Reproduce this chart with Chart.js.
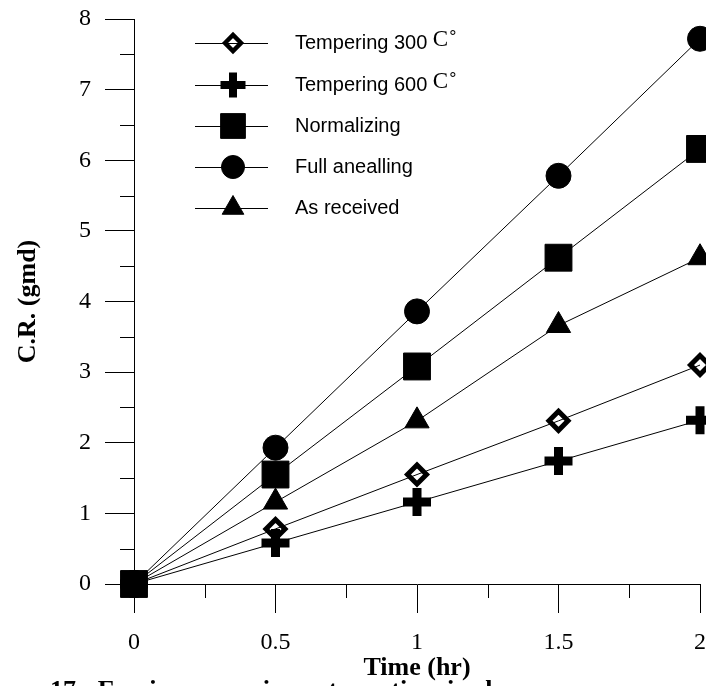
<!DOCTYPE html>
<html>
<head>
<meta charset="utf-8">
<script src="https://cdn.jsdelivr.net/npm/chart.js@4/dist/chart.umd.min.js"></script>
<style>
  html, body { margin: 0; padding: 0; background: #fff; }
  #wrap { width: 706px; height: 686px; }
</style>
</head>
<body>
<div id="wrap"><canvas id="chart" width="706" height="686"></canvas></div>
<script>
// Time (hr)
const times = [0, 0.5, 1, 1.5, 2];

// C.R. (gmd)
const tempering300 = [0, 0.78, 1.55, 2.31, 3.10];
const tempering600 = [0, 0.58, 1.16, 1.74, 2.32];
const normalizing  = [0, 1.55, 3.08, 4.62, 6.16];
const fullAnnealing = [0, 1.93, 3.86, 5.78, 7.72];
const asReceived   = [0, 1.16, 2.31, 3.66, 4.62];

const seriesNames = ['Tempering 300', 'Tempering 600', 'Normalizing', 'Full anealling', 'As received'];
const seriesUnits = ['C°', 'C°', '', '', ''];

const xTicks = [0, 0.5, 1, 1.5, 2];
const yTicks = [0, 1, 2, 3, 4, 5, 6, 7, 8];

const serif = '"Liberation Serif", "Times New Roman", serif';
const sans  = '"Liberation Sans", Arial, sans-serif';

// marqueurs (chart / légende)
const markers = [
  { pointStyle: 'rectRot',  radius: 9.5,  borderWidth: 5, fill: 'rgba(0,0,0,0)', lr: 8,    lb: 4.5 },
  { pointStyle: 'cross',    radius: 14,   borderWidth: 9, fill: '#000',          lr: 12.5, lb: 8 },
  { pointStyle: 'rect',     radius: 19,   borderWidth: 1, fill: '#000',          lr: 17.5, lb: 1 },
  { pointStyle: 'circle',   radius: 12.5, borderWidth: 1, fill: '#000',          lr: 11.5, lb: 1 },
  { pointStyle: 'triangle', radius: 14,   borderWidth: 1, fill: '#000',          lr: 12.5, lb: 1 }
];

const allValues = [tempering300, tempering600, normalizing, fullAnnealing, asReceived];

const datasets = allValues.map((vals, i) => ({
  label: seriesNames[i],
  data: times.map((t, j) => ({ x: t, y: vals[j] })),
  borderColor: '#000',
  borderWidth: 1,
  pointStyle: markers[i].pointStyle,
  pointRadius: markers[i].radius,
  pointBorderWidth: markers[i].borderWidth,
  pointBackgroundColor: markers[i].fill,
  pointBorderColor: '#000',
  fill: false,
  tension: 0,
  clip: false
}));

// ticks mineurs + légende + légende de figure
const extras = {
  id: 'extras',
  afterDraw(chart) {
    const ctx = chart.ctx;
    const xs = chart.scales.x, ys = chart.scales.y;
    const area = chart.chartArea;
    ctx.save();
    ctx.strokeStyle = '#000';
    ctx.lineWidth = 1;
    ctx.beginPath();
    for (let v = 0.25; v < 2; v += 0.5) {
      const px = Math.round(xs.getPixelForValue(v)) + 0.5;
      ctx.moveTo(px, area.bottom);
      ctx.lineTo(px, area.bottom + 14);
    }
    for (let v = 0.5; v < 8; v += 1) {
      const py = Math.round(ys.getPixelForValue(v)) + 0.5;
      ctx.moveTo(area.left - 14, py);
      ctx.lineTo(area.left, py);
    }
    ctx.stroke();

    // légende
    const lx1 = 195, lx2 = 268, mx = 233, tx = 295;
    const rowY = [43, 85, 126, 167, 208];
    seriesNames.forEach((name, i) => {
      const y = rowY[i];
      ctx.strokeStyle = '#000';
      ctx.lineWidth = 1;
      ctx.beginPath();
      ctx.moveTo(lx1, y + 0.5);
      ctx.lineTo(lx2, y + 0.5);
      ctx.stroke();
      const m = markers[i];
      ctx.fillStyle = m.fill;
      ctx.strokeStyle = '#000';
      ctx.lineWidth = m.lb;
      Chart.helpers.drawPoint(ctx, { pointStyle: m.pointStyle, rotation: 0, radius: m.lr, borderWidth: m.lb }, mx, y);
      ctx.fillStyle = '#000';
      ctx.font = '20px ' + sans;
      ctx.textBaseline = 'middle';
      ctx.textAlign = 'left';
      ctx.fillText(name, tx, y);
      if (seriesUnits[i]) {
        const w = ctx.measureText(name + ' ').width;
        ctx.font = '23px ' + serif;
        ctx.fillText('C', tx + w, y - 3);
        const wc = ctx.measureText('C').width;
        ctx.font = '18px ' + sans;
        ctx.fillText('°', tx + w + wc + 1, y - 5);
      }
    });

    // légende de figure (coupée en bas)
    ctx.fillStyle = '#000';
    ctx.font = 'bold 26px ' + serif;
    ctx.textBaseline = 'top';
    ctx.textAlign = 'left';
    ctx.fillText('17-  Erosion-corrosion rate vs. time in slurry', 50, 678);
    ctx.restore();
  }
};

new Chart(document.getElementById('chart'), {
  type: 'line',
  data: { datasets },
  options: {
    responsive: false,
    animation: false,
    events: [],
    layout: { autoPadding: false, padding: { left: 0, right: 6, top: 19, bottom: 0 } },
    plugins: { legend: { display: false }, tooltip: { enabled: false } },
    scales: {
      x: {
        type: 'linear',
        min: 0, max: 2,
        afterBuildTicks: s => { s.ticks = xTicks.map(v => ({ value: v })); },
        afterFit: s => { s.height = 102; s.paddingLeft = 0; s.paddingRight = 0; },
        ticks: { color: '#000', font: { family: serif, size: 24 }, padding: 15, maxRotation: 0, callback: v => String(v) },
        grid: { drawOnChartArea: false, drawTicks: true, tickLength: 29, tickColor: '#000', color: '#000', lineWidth: 1 },
        border: { display: true, color: '#000', width: 1 },
        title: { display: true, text: 'Time (hr)', color: '#000', font: { family: serif, size: 26, weight: 'bold' }, padding: { top: 0, bottom: 2 } }
      },
      y: {
        type: 'linear',
        min: 0, max: 8,
        afterBuildTicks: s => { s.ticks = yTicks.map(v => ({ value: v })); },
        afterFit: s => { s.width = 134; s.paddingTop = 0; s.paddingBottom = 0; },
        ticks: { color: '#000', font: { family: serif, size: 24 }, padding: 14 },
        grid: { drawOnChartArea: false, drawTicks: true, tickLength: 29, tickColor: '#000', color: '#000', lineWidth: 1 },
        border: { display: true, color: '#000', width: 1 },
        title: { display: true, text: 'C.R. (gmd)', color: '#000', font: { family: serif, size: 26, weight: 'bold' }, padding: { top: 13, bottom: 0 } }
      }
    }
  },
  plugins: [extras]
});
</script>
</body>
</html>
